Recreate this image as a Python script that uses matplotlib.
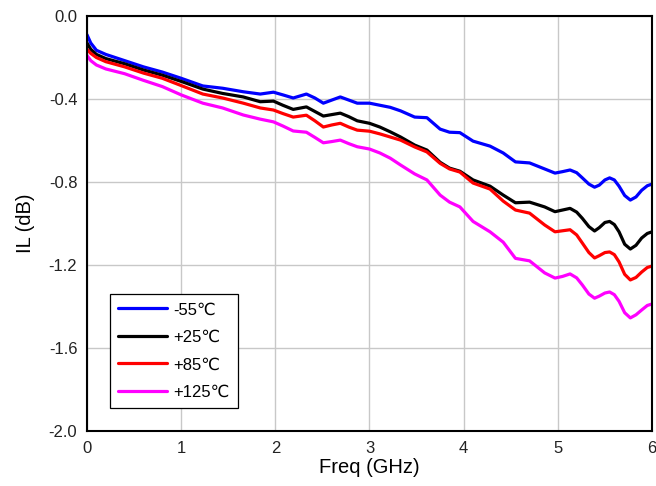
import matplotlib
matplotlib.use("Agg")
import matplotlib.pyplot as plt

plt.rcParams['font.family'] = ['Liberation Sans', 'DejaVu Sans']

# frequency points (GHz) shared by all temperature traces
freq = [0, 0.04, 0.1, 0.2, 0.4, 0.6, 0.8, 1.0, 1.23, 1.44, 1.66, 1.84, 1.98,
        2.08, 2.19, 2.33, 2.42, 2.51, 2.6, 2.69, 2.78, 2.87, 3.0, 3.11, 3.22,
        3.33, 3.48, 3.61, 3.75, 3.85, 3.96, 4.1, 4.28, 4.42, 4.55, 4.7, 4.86,
        4.97, 5.05, 5.13, 5.20, 5.26, 5.33, 5.39, 5.44, 5.50, 5.55, 5.60,
        5.65, 5.71, 5.77, 5.83, 5.89, 5.95, 6.0]

il_m55 = [-0.09, -0.13, -0.165, -0.185, -0.215, -0.245, -0.27, -0.30, -0.337,
          -0.348, -0.365, -0.376, -0.367, -0.38, -0.395, -0.376, -0.395, -0.42,
          -0.405, -0.39, -0.405, -0.42, -0.42, -0.43, -0.44, -0.457, -0.487,
          -0.49, -0.545, -0.56, -0.562, -0.603, -0.627, -0.66, -0.703, -0.708,
          -0.737, -0.757, -0.75, -0.742, -0.755, -0.78, -0.81, -0.825, -0.815,
          -0.79, -0.78, -0.79, -0.82, -0.865, -0.887, -0.872, -0.84, -0.818,
          -0.81]

il_p25 = [-0.13, -0.16, -0.185, -0.205, -0.23, -0.26, -0.285, -0.315, -0.352,
          -0.373, -0.39, -0.413, -0.41, -0.43, -0.45, -0.438, -0.46, -0.482,
          -0.475, -0.468, -0.485, -0.505, -0.517, -0.535, -0.558, -0.583,
          -0.622, -0.646, -0.705, -0.733, -0.748, -0.79, -0.82, -0.863, -0.90,
          -0.897, -0.92, -0.943, -0.935, -0.927, -0.945, -0.975, -1.015,
          -1.036, -1.02, -0.995, -0.99, -1.005, -1.04, -1.10, -1.123, -1.105,
          -1.07, -1.048, -1.04]

il_p85 = [-0.16, -0.18, -0.2, -0.22, -0.245, -0.275, -0.30, -0.335, -0.376,
          -0.395, -0.42, -0.443, -0.453, -0.47, -0.487, -0.478, -0.505, -0.535,
          -0.525, -0.517, -0.535, -0.55, -0.555, -0.568, -0.583, -0.598,
          -0.631, -0.655, -0.71, -0.737, -0.752, -0.805, -0.834, -0.892,
          -0.935, -0.95, -1.007, -1.04, -1.035, -1.03, -1.055, -1.094, -1.14,
          -1.166, -1.155, -1.14, -1.137, -1.15, -1.185, -1.245, -1.272, -1.26,
          -1.234, -1.212, -1.205]

il_p125 = [-0.19, -0.215, -0.236, -0.255, -0.278, -0.31, -0.34, -0.38, -0.42,
           -0.443, -0.477, -0.497, -0.51, -0.53, -0.554, -0.56, -0.585, -0.611,
           -0.605, -0.598, -0.615, -0.63, -0.641, -0.66, -0.685, -0.718,
           -0.761, -0.79, -0.863, -0.897, -0.92, -0.99, -1.04, -1.09, -1.168,
           -1.18, -1.238, -1.263, -1.255, -1.243, -1.262, -1.296, -1.34, -1.36,
           -1.35, -1.335, -1.33, -1.343, -1.375, -1.43, -1.455, -1.44, -1.417,
           -1.395, -1.388]

labels = ["-55℃", "+25℃", "+85℃", "+125℃"]
colors = ["#0000ff", "#000000", "#ff0000", "#ff00ff"]

fig = plt.figure(figsize=(6.56, 4.86), dpi=100)
ax = fig.add_axes([0.1326, 0.1132, 0.8613, 0.8538])

for ys, lab, c in zip([il_m55, il_p25, il_p85, il_p125], labels, colors):
    ax.plot(freq, ys, color=c, lw=2.3, label=lab, solid_capstyle='round')

ax.set_xlim(0, 6)
ax.set_ylim(-2.0, 0.0)
ax.set_xticks(range(0, 7))
ax.set_yticks([-2.0, -1.6, -1.2, -0.8, -0.4, 0.0])
ax.set_yticklabels(["-2.0", "-1.6", "-1.2", "-0.8", "-0.4", "0.0"])
ax.grid(True, color="#c8c8c8", lw=1.0)
ax.set_axisbelow(True)
ax.tick_params(length=0, labelsize=12, pad=7, colors="#222222")
for s in ax.spines.values():
    s.set_linewidth(1.5)
    s.set_color("black")

ax.set_xlabel("Freq (GHz)", fontsize=14.5, labelpad=2)
ax.set_ylabel("IL (dB)", fontsize=14.5, labelpad=10)

leg = ax.legend(loc="lower left", bbox_to_anchor=(0.041, 0.055), fontsize=12,
                frameon=True, fancybox=False, handlelength=2.9,
                borderaxespad=0, labelspacing=0.75, handletextpad=0.4,
                borderpad=0.5)
leg.get_frame().set_edgecolor("black")
leg.get_frame().set_linewidth(0.9)
leg.get_frame().set_alpha(1)

fig.savefig("out.png", dpi=100)
